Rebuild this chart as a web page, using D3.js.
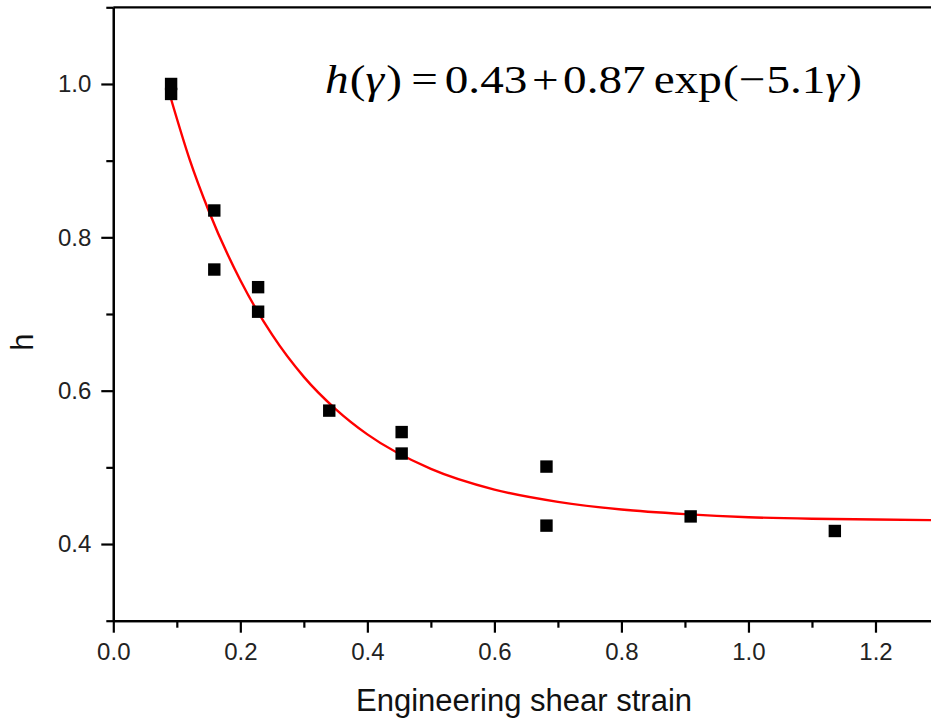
<!DOCTYPE html>
<html>
<head>
<meta charset="utf-8">
<script src="https://cdn.jsdelivr.net/npm/d3@7"></script>
<style>
body { margin: 0; background: #fff; }
svg { display: block; }
.tick text { font-family: "Liberation Sans", Arial, sans-serif; font-size: 24px; fill: #222; }
</style>
</head>
<body>
<svg id="chart" width="931" height="721"></svg>
<script>
// measured points (engineering shear strain, h)
var strain = [0.091, 0.091, 0.159, 0.159, 0.228, 0.228, 0.340, 0.454, 0.454, 0.682, 0.682, 0.909, 1.136];
var hval   = [1.000, 0.987, 0.835, 0.758, 0.735, 0.703, 0.574, 0.546, 0.518, 0.501, 0.424, 0.436, 0.417];

// fitted curve
var fitX = [0.09, 0.12, 0.15, 0.20, 0.25, 0.30, 0.35, 0.40, 0.50, 0.60, 0.70, 0.80, 0.90, 1.00, 1.10, 1.20, 1.30];
var fitY = [0.983, 0.902, 0.835, 0.744, 0.673, 0.618, 0.576, 0.543, 0.498, 0.471, 0.455, 0.445, 0.439, 0.435, 0.433, 0.432, 0.431];

var xMajor = [0, 0.2, 0.4, 0.6, 0.8, 1.0, 1.2];
var xMinor = [0.1, 0.3, 0.5, 0.7, 0.9, 1.1, 1.3];
var yMajor = [0.4, 0.6, 0.8, 1.0];
var yMinor = [0.3, 0.5, 0.7, 0.9, 1.1];

var padLeft = 113.3, padRight = 939, padTop = 7.3, padBot = 620.7;
var svg = d3.select("#chart");

var x = d3.scaleLinear().domain([0, 1.3]).range([padLeft, padRight]);
var y = d3.scaleLinear().domain([0.3, 1.1]).range([padBot, padTop]);

function styleAxis(g) {
    g.selectAll("path, line").attr("stroke", "#000").attr("stroke-width", 2.2);
}

// top frame line
svg.append("line")
    .attr("x1", padLeft).attr("x2", padRight)
    .attr("y1", padTop).attr("y2", padTop)
    .attr("stroke", "#000").attr("stroke-width", 2.2);

svg.append("g")
    .attr("transform", "translate(0," + padBot + ")")
    .call(d3.axisBottom(x).tickValues(xMinor).tickSize(7).tickSizeOuter(0).tickFormat(""))
    .call(styleAxis);
svg.append("g")
    .attr("transform", "translate(0," + padBot + ")")
    .call(d3.axisBottom(x).tickValues(xMajor).tickSize(12).tickSizeOuter(0).tickPadding(10)
        .tickFormat(d3.format(".1f")))
    .call(styleAxis);

svg.append("g")
    .attr("transform", "translate(" + padLeft + ",0)")
    .call(d3.axisLeft(y).tickValues(yMinor).tickSize(7).tickSizeOuter(0).tickFormat(""))
    .call(styleAxis);
svg.append("g")
    .attr("transform", "translate(" + padLeft + ",0)")
    .call(d3.axisLeft(y).tickValues(yMajor).tickSize(12).tickSizeOuter(0).tickPadding(10)
        .tickFormat(d3.format(".1f")))
    .call(styleAxis);

// fit curve
var line = d3.line()
    .x(function (d) { return x(d[0]); })
    .y(function (d) { return y(d[1]); })
    .curve(d3.curveMonotoneX);
svg.append("path")
    .datum(d3.zip(fitX, fitY))
    .attr("d", line)
    .attr("fill", "none")
    .attr("stroke", "#ff0000")
    .attr("stroke-width", 2.4);

// square markers
var sz = 12.4;
svg.selectAll("rect.pt")
    .data(d3.zip(strain, hval))
    .enter().append("rect")
    .attr("class", "pt")
    .attr("x", function (d) { return x(d[0]) - sz / 2; })
    .attr("y", function (d) { return y(d[1]) - sz / 2; })
    .attr("width", sz).attr("height", sz)
    .attr("fill", "#000");

// axis titles
svg.append("text")
    .attr("x", 524).attr("y", 711)
    .attr("text-anchor", "middle")
    .style("font-family", "'Liberation Sans', Arial, sans-serif")
    .style("font-size", "31px")
    .attr("fill", "#111")
    .text("Engineering shear strain");

svg.append("text")
    .attr("transform", "translate(33,342) rotate(-90)")
    .attr("text-anchor", "middle")
    .style("font-family", "'Liberation Sans', Arial, sans-serif")
    .style("font-size", "31px")
    .attr("fill", "#111")
    .text("h");

// equation: [text, italic, gap before]
var eqParts = [
    ["h", true, 0], ["(", false, 1], ["\u03b3", true, 0], [")", false, 2],
    ["=", false, 8], ["0.43", false, 6], ["+", false, 4], ["0.87", false, 4],
    ["exp", false, 7], ["(", false, 1], ["\u2212", false, 0], ["5.1", false, 1],
    ["\u03b3", true, 0], [")", false, 2]
];
var eq = svg.append("text")
    .attr("x", 325).attr("y", 93)
    .attr("textLength", 537)
    .attr("lengthAdjust", "spacingAndGlyphs")
    .style("font-family", "'Liberation Serif', 'Times New Roman', serif")
    .style("font-size", "41px")
    .attr("fill", "#000");
eq.selectAll("tspan")
    .data(eqParts)
    .enter().append("tspan")
    .attr("dx", function (d) { return d[2]; })
    .style("font-style", function (d) { return d[1] ? "italic" : "normal"; })
    .text(function (d) { return d[0]; });
</script>
</body>
</html>
